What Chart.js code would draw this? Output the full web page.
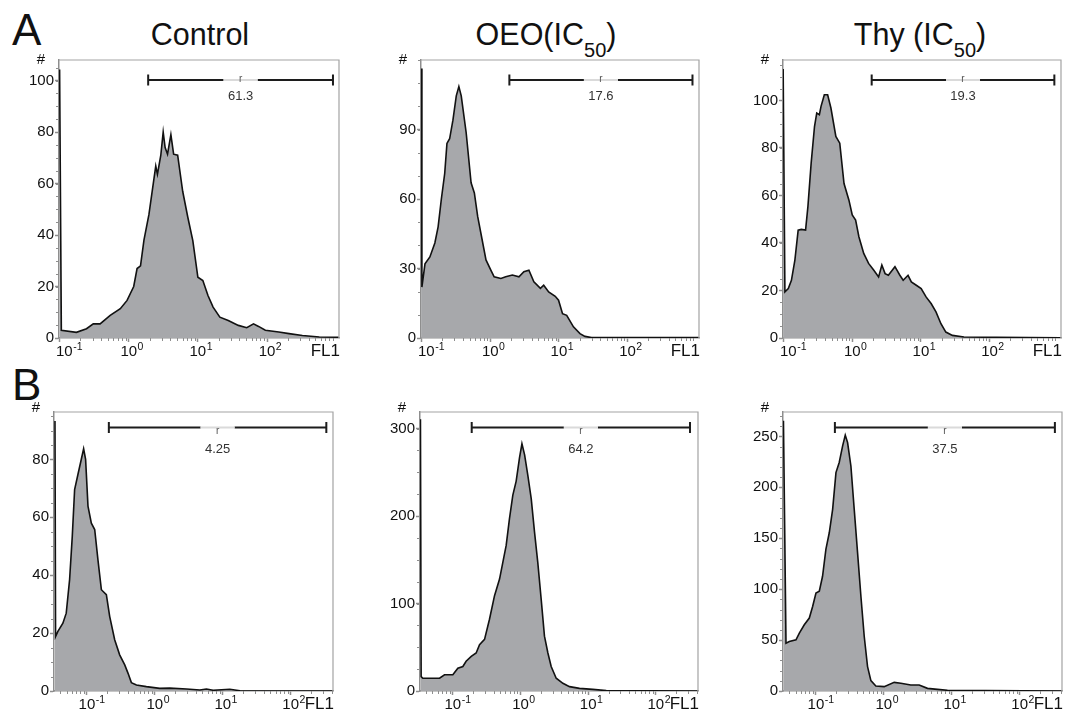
<!DOCTYPE html>
<html>
<head>
<meta charset="utf-8">
<script src="https://cdn.jsdelivr.net/npm/chart.js@4/dist/chart.umd.min.js"></script>
<style>
  body { margin: 0; width: 1065px; height: 712px; background: #fff; position: relative; overflow: hidden;
         font-family: "Liberation Sans", Arial, sans-serif; color: #111; }
  .title { position: absolute; width: 300px; text-align: center; font-size: 30.5px; line-height: 30px; white-space: nowrap; }
  .title span { font-size: 20px; position: relative; top: 12px; }
  .letter { position: absolute; font-size: 44px; line-height: 44px; }
  canvas { position: absolute; }
</style>
</head>
<body>
<div class="letter" style="left:12px;top:8px">A</div>
<div class="letter" style="left:12px;top:363px">B</div>
<div class="title" style="left:50px;top:19px">Control</div>
<div class="title" style="left:396px;top:19px">OEO(IC<span>50</span>)</div>
<div class="title" style="left:770px;top:19px">Thy (IC<span>50</span>)</div>
<canvas id="c0"></canvas>
<canvas id="c1"></canvas>
<canvas id="c2"></canvas>
<canvas id="c3"></canvas>
<canvas id="c4"></canvas>
<canvas id="c5"></canvas>
<script>
// x axis (FL1, log) ticks: base 10 with exponent
const xTickValues = [0.1, 1, 10, 100];
const xTickExp = ['-1', '0', '1', '2'];

// row A: FL1 histograms
const ctrlA_fl = [0.1, 0.106, 0.175, 0.245, 0.307, 0.385, 0.539, 0.755, 0.946, 1.18, 1.32, 1.48, 1.66, 1.96, 2.32, 2.46, 2.60, 2.91, 3.15, 3.36, 3.64, 4.07, 4.46, 5.10, 6.03, 7.14, 8.45, 10.0, 11.8, 14.0, 16.6, 20.8, 27.5, 38.5, 50.9, 63.8, 75.5, 94.6, 148, 208, 325, 570, 1090];
const ctrlA_count = [104.3, 3, 2.2, 3.6, 5.5, 5.5, 8.8, 11.4, 14.6, 20, 27, 28, 38, 48, 62, 66.8, 63.6, 71, 80, 74, 71.4, 79, 71.4, 71, 57, 47, 37.8, 23.6, 22.3, 16.5, 12, 8.1, 6.8, 4.9, 4, 5.5, 4.5, 3, 2.3, 1.7, 1, 0.4, 0.3];

const oeoA_fl = [0.0985, 0.101, 0.112, 0.132, 0.156, 0.174, 0.194, 0.217, 0.234, 0.256, 0.286, 0.320, 0.349, 0.378, 0.446, 0.526, 0.587, 0.656, 0.733, 0.867, 1.02, 1.14, 1.43, 1.68, 2.10, 2.62, 3.09, 3.66, 4.32, 5.38, 6.01, 7.10, 8.85, 9.89, 11.3, 13.0, 16.3, 20.3, 24.0, 29.9, 1090];
const oeoA_count = [116.3, 22, 32, 35, 41, 48, 60, 71, 84, 86, 94, 104.5, 108.5, 104.5, 88.6, 67, 62.6, 52.5, 45, 33.7, 29.3, 26.4, 25.7, 26.4, 27.2, 26.4, 28.6, 29.3, 24.3, 21.4, 22.8, 19.9, 18, 16.3, 10.5, 9.8, 4.8, 1.9, 0.7, 0.15, 0.15];

const thyA_fl = [0.0985, 0.1045, 0.117, 0.130, 0.146, 0.163, 0.181, 0.209, 0.226, 0.252, 0.282, 0.304, 0.332, 0.351, 0.392, 0.438, 0.489, 0.577, 0.658, 0.759, 0.895, 1.00, 1.12, 1.25, 1.47, 1.73, 2.05, 2.42, 2.70, 3.01, 3.36, 4.19, 4.94, 5.52, 6.50, 7.26, 8.57, 10.1, 11.9, 14.1, 16.6, 19.6, 23.1, 28.8, 42.4, 1090];
const thyA_count = [113.2, 19.4, 20.8, 24.3, 32.8, 45.4, 45.7, 45.4, 55.3, 73.6, 89, 94.7, 94, 97.5, 102.4, 102.4, 96.8, 84.8, 82, 65, 58, 51.8, 49.6, 42.6, 35.6, 31.4, 28.6, 25.7, 30.7, 27.1, 26.4, 30, 26.4, 24.3, 26.4, 23.6, 22.2, 20.8, 17.3, 14.5, 11, 6, 2.5, 1.1, 0.4, 0.1];

// row B
const ctrlB_fl = [0.0338, 0.0345, 0.0373, 0.0442, 0.0495, 0.0555, 0.0608, 0.0658, 0.0736, 0.0824, 0.0893, 0.0955, 0.1035, 0.116, 0.130, 0.145, 0.163, 0.193, 0.216, 0.256, 0.303, 0.360, 0.403, 0.451, 0.535, 0.750, 1.18, 1.66, 2.92, 4.59, 5.75, 7.21, 12.7, 17.9, 415];
const ctrlB_count = [93.3, 18.8, 20.6, 23.4, 26.9, 38.5, 53.5, 69.6, 74.8, 80, 83.7, 80, 63.9, 58, 55.8, 45.4, 35, 33.3, 25.8, 17.7, 12.5, 9, 6.1, 2.9, 2.1, 1.5, 0.9, 1.0, 0.7, 0.35, 0.7, 0.25, 0.6, 0.1, 0];

const oeoB_fl = [0.0332, 0.0340, 0.0360, 0.0636, 0.0753, 0.100, 0.1186, 0.1406, 0.157, 0.187, 0.221, 0.248, 0.294, 0.348, 0.413, 0.490, 0.548, 0.614, 0.687, 0.770, 0.863, 0.966, 1.05, 1.15, 1.28, 1.44, 1.61, 1.80, 2.02, 2.26, 2.54, 2.84, 3.37, 4.23, 5.30, 7.45, 11.7, 18.5, 415];
const oeoB_count = [310.8, 16.5, 14.6, 14.6, 18.5, 18.5, 26, 28, 34, 39.6, 43.5, 53, 59, 82, 109, 128, 147, 166.5, 197, 224, 240, 266.5, 282.7, 270, 247, 220, 182, 147, 105, 62.7, 43.5, 28, 14.6, 8.8, 5, 3, 1.9, 0.4, 0];

const thyB_fl = [0.0332, 0.0362, 0.0405, 0.0508, 0.0569, 0.0673, 0.0798, 0.0893, 0.100, 0.112, 0.125, 0.140, 0.157, 0.176, 0.197, 0.220, 0.247, 0.270, 0.292, 0.327, 0.366, 0.410, 0.459, 0.514, 0.575, 0.644, 0.762, 1.01, 1.42, 1.78, 2.49, 3.31, 4.39, 6.15, 8.63, 415];
const thyB_count = [265.4, 47, 48.6, 50.3, 56.8, 65, 71.6, 83, 96.3, 98, 112.7, 139, 155.4, 178.4, 214.5, 224.4, 240.8, 251.3, 244, 221, 178.4, 135.7, 93, 53.5, 24, 10.2, 4.9, 4.3, 8.5, 7.6, 5.9, 5.9, 2.6, 1.6, 0.7, 0];

// y ticks per panel
const yTicksCtrlA = [0, 20, 40, 60, 80, 100];
const yTicksOeoA = [0, 30, 60, 90];
const yTicksThyA = [0, 20, 40, 60, 80, 100];
const yTicksCtrlB = [0, 20, 40, 60, 80];
const yTicksOeoB = [0, 100, 200, 300];
const yTicksThyB = [0, 50, 100, 150, 200, 250];

// marker gate (FL1 range) and its percentage
const gateFrom = [1.91, 1.9, 1.92, 0.21, 0.19, 0.19];
const gateTo = [900, 884, 880, 335, 320, 330];
const gateValue = ['61.3', '17.6', '19.3', '4.25', '64.2', '37.5'];

const FONT = '"Liberation Sans", Arial, sans-serif';
Chart.defaults.font.family = FONT;
Chart.defaults.color = '#111';

// box = [left, top, width, height] of the plot area on the page
const panels = [
  { box: [59, 60, 280, 278], fl: ctrlA_fl, count: ctrlA_count, yMax: 108, yTicks: yTicksCtrlA, yMinor: 5, xMin: 0.098, xMax: 1100, row: 'A' },
  { box: [421, 60, 278, 278], fl: oeoA_fl, count: oeoA_count, yMax: 120, yTicks: yTicksOeoA, yMinor: 10, xMin: 0.098, xMax: 1100, row: 'A' },
  { box: [783, 60, 278, 278], fl: thyA_fl, count: thyA_count, yMax: 117, yTicks: yTicksThyA, yMinor: 5, xMin: 0.098, xMax: 1100, row: 'A' },
  { box: [54, 412, 279, 279], fl: ctrlB_fl, count: ctrlB_count, yMax: 96.4, yTicks: yTicksCtrlB, yMinor: 5, xMin: 0.0327, xMax: 420, row: 'B' },
  { box: [420, 412, 278, 279], fl: oeoB_fl, count: oeoB_count, yMax: 319, yTicks: yTicksOeoB, yMinor: 25, xMin: 0.0327, xMax: 420, row: 'B' },
  { box: [783, 412, 279, 279], fl: thyB_fl, count: thyB_count, yMax: 274, yTicks: yTicksThyB, yMinor: 10, xMin: 0.0327, xMax: 420, row: 'B' }
];

const PADL = 50, PADT = 20, PADR = 8, PADB = 24;
const AXIS = '#8e8e8e';

const flowDecor = {
  id: 'flowDecor',
  afterDraw(chart, args, o) {
    const { ctx, chartArea: a, scales: { x, y } } = chart;
    ctx.save();
    // frame top / right
    ctx.strokeStyle = '#a3a3a3';
    ctx.lineWidth = 1.2;
    ctx.beginPath();
    ctx.moveTo(a.left, a.top); ctx.lineTo(a.right, a.top); ctx.lineTo(a.right, a.bottom);
    ctx.stroke();

    // minor ticks
    ctx.strokeStyle = AXIS;
    ctx.lineWidth = 1;
    ctx.beginPath();
    for (let d = -2; d <= 3; d++) {
      for (let m = 2; m <= 9; m++) {
        const v = m * Math.pow(10, d);
        if (v <= x.min || v >= x.max) continue;
        const px = Math.round(x.getPixelForValue(v)) + 0.5;
        ctx.moveTo(px, a.bottom); ctx.lineTo(px, a.bottom + 3);
      }
    }
    for (let v = 0; v <= y.max; v += o.yMinor) {
      const py = Math.round(y.getPixelForValue(v)) + 0.5;
      ctx.moveTo(a.left - 3, py); ctx.lineTo(a.left, py);
    }
    ctx.stroke();

    // x tick labels 10^n, "10" centred on the tick
    ctx.fillStyle = '#111';
    ctx.textAlign = 'left';
    ctx.textBaseline = 'alphabetic';
    x.ticks.forEach(t => {
      const k = xTickValues.indexOf(t.value);
      const px = x.getPixelForValue(t.value);
      ctx.font = '15px ' + FONT;
      const wb = ctx.measureText('10').width;
      let left = Math.max(px - wb / 2, a.left - 3);
      ctx.fillText('10', left, a.bottom + 17.5);
      ctx.font = '10.5px ' + FONT;
      ctx.fillText(xTickExp[k], left + wb + 0.5, a.bottom + 11.5);
    });

    // gate marker
    const rowA = o.row === 'A';
    const gy = a.top + (rowA ? 20 : 15.5);
    const x1 = x.getPixelForValue(o.gate[0]);
    const x2 = x.getPixelForValue(o.gate[1]);
    const mid = (x1 + x2) / 2;
    ctx.strokeStyle = '#1c1c1c';
    ctx.lineWidth = 2;
    ctx.beginPath();
    ctx.moveTo(x1, gy); ctx.lineTo(mid - 17, gy);
    ctx.moveTo(mid + 17, gy); ctx.lineTo(x2, gy);
    ctx.moveTo(x1, gy - 5.5); ctx.lineTo(x1, gy + 5.5);
    ctx.moveTo(x2, gy - 5.5); ctx.lineTo(x2, gy + 5.5);
    ctx.stroke();
    ctx.strokeStyle = '#dadada';
    ctx.beginPath();
    ctx.moveTo(mid - 17, gy); ctx.lineTo(mid + 17, gy);
    ctx.stroke();
    ctx.textAlign = 'center';
    ctx.textBaseline = 'middle';
    ctx.fillStyle = '#555';
    ctx.font = '10px ' + FONT;
    ctx.fillText('r', mid, gy + (rowA ? -1 : 4));
    ctx.fillStyle = '#333';
    ctx.font = '13px ' + FONT;
    ctx.fillText(o.label, mid, gy + (rowA ? 16 : 21.5));

    // "#" and "FL1"
    ctx.fillStyle = '#111';
    ctx.font = '15px ' + FONT;
    ctx.fillText('#', a.left - 18, a.top + (rowA ? 0 : -4));
    ctx.font = '17px ' + FONT;
    ctx.textAlign = 'right';
    ctx.textBaseline = 'alphabetic';
    ctx.fillText('FL1', a.right + 1, a.bottom + 17.5);
    ctx.restore();
  }
};

panels.forEach((p, i) => {
  const cv = document.getElementById('c' + i);
  const w = PADL + p.box[2] + PADR, h = PADT + p.box[3] + PADB;
  cv.width = w; cv.height = h;
  cv.style.width = w + 'px'; cv.style.height = h + 'px';
  cv.style.left = (p.box[0] - PADL) + 'px';
  cv.style.top = (p.box[1] - PADT) + 'px';

  new Chart(cv, {
    type: 'line',
    data: {
      datasets: [{
        data: p.fl.map((v, k) => ({ x: v, y: p.count[k] })),
        borderColor: '#111',
        borderWidth: 1.6,
        backgroundColor: '#a7a8ab',
        fill: 'origin',
        pointRadius: 0,
        tension: 0
      }]
    },
    options: {
      responsive: false,
      animation: false,
      events: [],
      layout: { padding: { top: PADT, right: PADR, left: 0, bottom: 0 } },
      plugins: {
        legend: { display: false },
        tooltip: { enabled: false },
        flowDecor: { yMinor: p.yMinor, row: p.row, gate: [gateFrom[i], gateTo[i]], label: gateValue[i] }
      },
      scales: {
        x: {
          type: 'logarithmic',
          min: p.xMin,
          max: p.xMax,
          afterBuildTicks: s => { s.ticks = xTickValues.map(v => ({ value: v })); },
          afterFit: s => { s.height = PADB; },
          ticks: { display: false },
          grid: { drawOnChartArea: false, tickLength: 4, tickColor: AXIS, tickWidth: 1.5 },
          border: { color: AXIS, width: 1.5 }
        },
        y: {
          min: 0,
          max: p.yMax,
          afterBuildTicks: s => { s.ticks = p.yTicks.map(v => ({ value: v })); },
          afterFit: s => { s.width = PADL; },
          ticks: { font: { size: 15 }, color: '#111', padding: 1 },
          grid: { drawOnChartArea: false, tickLength: 4, tickColor: AXIS, tickWidth: 1.5 },
          border: { color: AXIS, width: 1.5 }
        }
      }
    },
    plugins: [flowDecor]
  });
});
</script>
</body>
</html>
